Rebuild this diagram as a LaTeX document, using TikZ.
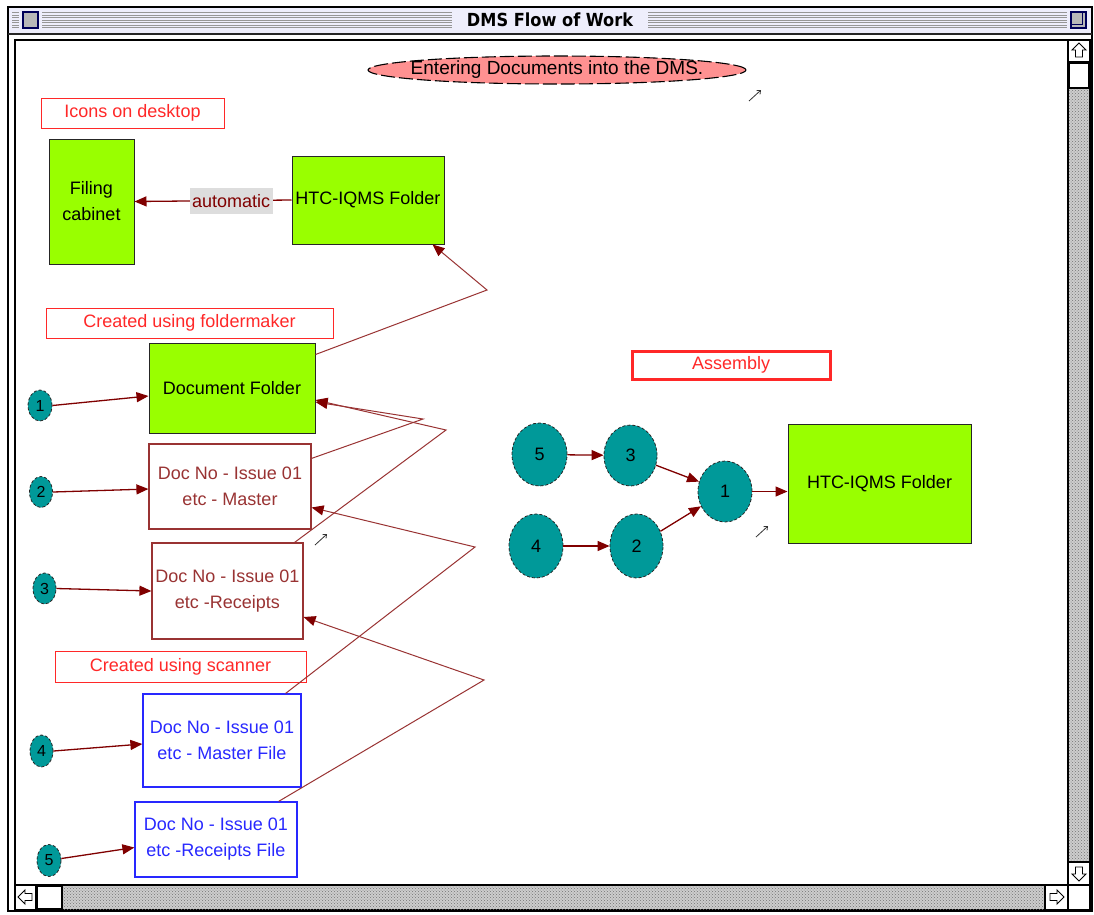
\documentclass[tikz,border=0pt]{standalone}
\usepackage{fontspec}
\setmainfont{Liberation Sans}
\newfontfamily\titlefont{DejaVu Sans Condensed}
\usetikzlibrary{arrows.meta,shapes.geometric,patterns}

\definecolor{leaf}{RGB}{153,255,0}
\definecolor{tealc}{RGB}{0,153,153}
\definecolor{rust}{RGB}{153,51,51}
\definecolor{maroon}{RGB}{128,0,0}
\definecolor{labelred}{RGB}{255,40,40}
\definecolor{docblue}{RGB}{40,40,255}
\definecolor{salmon}{RGB}{255,145,145}
\definecolor{chipgray}{RGB}{221,221,221}
\definecolor{stipple}{RGB}{205,205,205}
\definecolor{barlilac}{RGB}{238,238,252}
\definecolor{stripe}{RGB}{150,150,150}

\begin{document}
\begin{tikzpicture}[
  x=1pt, y=-1pt,
  txt/.style={font=\fontsize{18}{26}\selectfont, align=center, inner sep=0pt},
  greenbox/.style={txt, rectangle, draw=black!85, line width=1pt, fill=leaf, text=black},
  paperbox/.style={txt, rectangle, draw=rust, line width=1.2pt, fill=white, text=rust},
  scanbox/.style={txt, rectangle, draw=docblue, line width=1.2pt, fill=white, text=docblue},
  tagbox/.style={txt, rectangle, draw=labelred, line width=1pt, fill=white, text=labelred},
  tealdot/.style={ellipse, draw=black!85, densely dashed, line width=0.8pt, fill=tealc,
    inner sep=0pt, font=\fontsize{16}{16}\selectfont, text=black},
  link/.style={draw=maroon, line width=1.3pt, -{Triangle[length=12pt,width=10pt]}},
  zig/.style={draw=rust, line width=1pt, -{Triangle[length=12pt,width=10pt,color=maroon]}},
  handle/.style={draw=black!80, line width=0.8pt, -{Straight Barb[length=3pt,width=5pt]}},
  chrome/.style={draw=black, line width=1.2pt},
  stippled/.style={fill=stipple, postaction={pattern=crosshatch dots, pattern color=black!55}}
]
\useasboundingbox (0,0) rectangle (1094,914);
\fill[white] (0,0) rectangle (1094,914);

% ---------- window frame ----------
\draw[chrome] (8,7) rectangle (1092,911);
\fill[barlilac] (9,8) rectangle (1091,33);
\foreach \yy in {12.5,15,17.5,20,22.5,25,27.5}
  \draw[stripe, line width=1pt] (12,\yy) -- (1088,\yy);
\fill[barlilac] (452,9) rectangle (648,32);
\node[font=\titlefont\bfseries\fontsize{18}{18}\selectfont, inner sep=0pt] (title) at (550,20) {DMS Flow of Work};
% close box and zoom box
\fill[barlilac] (19,9) rectangle (42,31);
\draw[fill=gray!55, draw=blue!35!black, line width=1.2pt] (23,12) rectangle (38,28);
\fill[barlilac] (1067,9) rectangle (1090,31);
\draw[fill=gray!55, draw=blue!35!black, line width=1.2pt] (1071,12) rectangle (1086,28);
\draw[blue!35!black, line width=0.9pt] (1071,24) -- (1082,24) -- (1082,12);
\draw[black!85, line width=1.5pt] (8,34) -- (1092,34);

% content area
\draw[chrome] (15,40) rectangle (1068,885);

% vertical scroll bar
\draw[chrome, fill=white] (1068,40) rectangle (1090,885);
\path[stippled] (1069,88) rectangle (1089,862);
\draw[chrome] (1068,62) -- (1090,62);
\draw[chrome] (1068,862) -- (1090,862);
\draw[line width=1.6pt, fill=white] (1069,63) rectangle (1089,88);
\draw[line width=0.9pt] (1079,43) -- (1086,50) -- (1082.5,50) -- (1082.5,57) -- (1075.5,57) -- (1075.5,50) -- (1072,50) -- cycle;
\draw[line width=0.9pt] (1079,881) -- (1086,874) -- (1082.5,874) -- (1082.5,867) -- (1075.5,867) -- (1075.5,874) -- (1072,874) -- cycle;

% horizontal scroll bar
\draw[chrome, fill=white] (15,885) rectangle (1068,910);
\path[stippled] (62,886) rectangle (1045,909);
\draw[chrome] (36,885) -- (36,910);
\draw[chrome] (1045,885) -- (1045,910);
\draw[line width=1.6pt, fill=white] (37,886) rectangle (62,909);
\draw[line width=0.9pt] (18,897) -- (25,890) -- (25,893.5) -- (32,893.5) -- (32,900.5) -- (25,900.5) -- (25,904) -- cycle;
\draw[line width=0.9pt] (1064,897) -- (1057,890) -- (1057,893.5) -- (1050,893.5) -- (1050,900.5) -- (1057,900.5) -- (1057,904) -- cycle;
\draw[chrome, fill=white] (1068,885) rectangle (1090,910);

% ---------- heading ----------
\node[txt, ellipse, draw=black, fill=salmon, line width=1.1pt, dash pattern=on 14pt off 4pt,
      minimum width=378pt, minimum height=28pt, font=\fontsize{19}{19}\selectfont] (banner) at (557,70)
      {\makebox[0pt]{Entering Documents into the DMS.}};

% ---------- labels ----------
\node[tagbox, minimum width=183pt, minimum height=30pt] (desk) at (132.5,113) {Icons on desktop};
\node[tagbox, minimum width=287pt, minimum height=30pt] (fmaker) at (189.5,323) {Created using foldermaker};
\node[tagbox, minimum width=251pt, minimum height=31pt] (scanner) at (180.5,666.5) {Created using scanner};
\node[tagbox, line width=3pt, minimum width=198pt, minimum height=28pt] (assembly) at (731,365) {Assembly};

% ---------- left column ----------
\node[greenbox, minimum width=85pt, minimum height=125pt] (cabinet) at (91.5,201.5) {Filing\\cabinet};
\node[greenbox, minimum width=152pt, minimum height=88pt] (htcA) at (368,200) {HTC-IQMS Folder};
\node[greenbox, minimum width=166pt, minimum height=90pt] (docf) at (232,388) {Document Folder};
\node[paperbox, minimum width=162pt, minimum height=85pt] (master) at (230,486.5) {Doc No - Issue 01\\etc - Master};
\node[paperbox, minimum width=151pt, minimum height=96pt] (receipts) at (227.5,591) {Doc No - Issue 01\\etc -Receipts};
\node[scanbox, minimum width=158pt, minimum height=93pt] (mfile) at (222,740.5) {Doc No - Issue 01\\etc - Master File};
\node[scanbox, minimum width=162pt, minimum height=75pt] (rfile) at (216,839.5) {Doc No - Issue 01\\etc -Receipts File};

\node[tealdot, minimum width=24pt, minimum height=31pt] (s1) at (40,405.5) {1};
\node[tealdot, minimum width=23pt, minimum height=31pt] (s2) at (41,492) {2};
\node[tealdot, minimum width=23pt, minimum height=31pt] (s3) at (44.5,588.5) {3};
\node[tealdot, minimum width=23pt, minimum height=32pt] (s4) at (41.5,751) {4};
\node[tealdot, minimum width=24pt, minimum height=32pt] (s5) at (49,860.5) {5};

% ---------- right column ----------
\node[tealdot, minimum width=55pt, minimum height=63pt, font=\fontsize{18}{18}\selectfont] (r5) at (539.5,454.5) {5};
\node[tealdot, minimum width=53pt, minimum height=61pt, font=\fontsize{18}{18}\selectfont] (r3) at (630.5,455.5) {3};
\node[tealdot, minimum width=54pt, minimum height=64pt, font=\fontsize{18}{18}\selectfont] (r4) at (536,546) {4};
\node[tealdot, minimum width=53pt, minimum height=64pt, font=\fontsize{18}{18}\selectfont] (r2) at (636.5,546) {2};
\node[tealdot, minimum width=54pt, minimum height=61pt, font=\fontsize{18}{18}\selectfont] (r1) at (725,491.5) {1};
\node[greenbox, minimum width=183pt, minimum height=119pt] (htcB) at (879.5,483.5) {HTC-IQMS Folder};

% ---------- connectors ----------
\draw[link] (htcA.west) -- node[pos=0.385, txt, fill=chipgray, text=maroon,
   minimum width=83pt, minimum height=26pt] (auto) {automatic} (cabinet.east);

\draw[link] (s1.east) -- ([yshift=-8pt]docf.west);
\draw[link] (s2.east) -- ([yshift=-2.5pt]master.west);
\draw[link] (s3.east) -- (receipts.west);
\draw[link] (s4.east) -- ([yshift=-3.5pt]mfile.west);
\draw[link] ([yshift=2pt]s5.east) -- ([yshift=-8pt]rfile.west);

\coordinate (k1) at (487,290);
\coordinate (k2) at (423,419);
\coordinate (k3) at (446,430);
\coordinate (k4) at (475,547);
\coordinate (k5) at (484,680);
\draw[zig] ([yshift=-12pt]docf.north east) -- (k1) -- ([xshift=-12pt]htcA.south east);
\draw[zig] ([yshift=-15pt]master.north east) -- (k2) -- ([yshift=-14pt]docf.east);
\draw[zig] ([xshift=-9pt]receipts.north east) -- (k3) -- ([yshift=-12pt]docf.east);
\draw[zig] ([xshift=-16pt]mfile.north east) -- (k4) -- ([yshift=-21pt]master.east);
\draw[zig] ([xshift=-19pt]rfile.north east) -- (k5) -- ([yshift=-26pt]receipts.east);

\draw[link] (r5) -- (r3);
\draw[link] (r4) -- (r2);
\draw[link] (r3) -- (r1);
\draw[link] (r2) -- (r1);
\draw[link] (r1.east) -- (htcB.west |- r1.east);

% selection handles
\draw[handle] (749,101) -- (761,90);
\draw[handle] (315,545) -- (327,534);
\draw[handle] (756,537) -- (768,526);
\end{tikzpicture}
\end{document}
